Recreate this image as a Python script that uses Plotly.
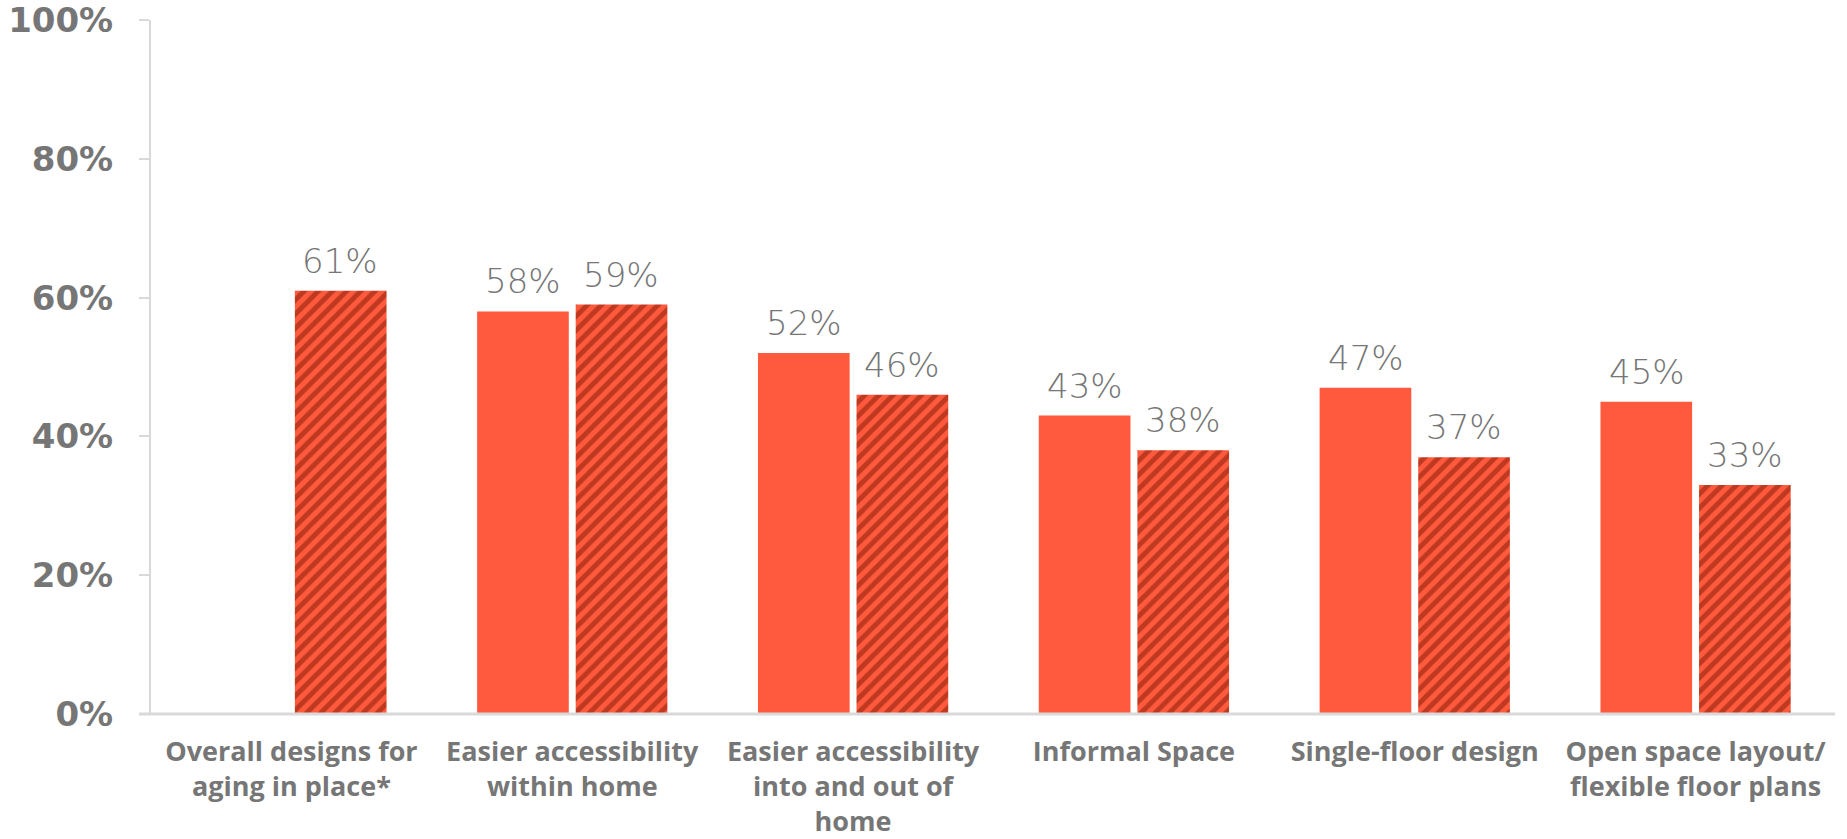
import plotly.graph_objects as go

categories = [
    "Overall designs for<br>aging in place*",
    "Easier accessibility<br>within home",
    "Easier accessibility<br>into and out of<br>home",
    "Informal Space",
    "Single-floor design",
    "Open space layout/<br>flexible floor plans",
]
solid_values = [None, 58, 52, 43, 47, 45]
hatched_values = [61, 59, 46, 38, 37, 33]
y_tick_values = [0, 20, 40, 60, 80, 100]
y_tick_labels = ["0%", "20%", "40%", "60%", "80%", "100%"]

ORANGE = "#FF5A3D"
DARK = "#7E1702"
GREY = "#767676"
AXIS = "#D9D9D9"

x_idx = list(range(len(categories)))

fig = go.Figure()
fig.add_trace(go.Bar(
    x=x_idx, y=solid_values, marker=dict(color=ORANGE, line=dict(width=0)),
    hoverinfo="skip", showlegend=False,
))
fig.add_trace(go.Bar(
    x=x_idx, y=hatched_values,
    marker=dict(color=ORANGE, line=dict(width=0),
                pattern=dict(shape="/", fgcolor=DARK, bgcolor=ORANGE,
                             size=10, solidity=0.5, fillmode="overlay")),
    hoverinfo="skip", showlegend=False,
))

# value labels above each bar
bar_offset = 49
for i in x_idx:
    for vals, shift in ((solid_values, -bar_offset), (hatched_values, bar_offset)):
        v = vals[i]
        if v is None:
            continue
        fig.add_annotation(
            x=i, y=v, xref="x", yref="y", text=f"{v}%", showarrow=False,
            xshift=shift, yshift=8, yanchor="bottom",
            font=dict(family="'DejaVu Sans', sans-serif", size=34,
                      color=GREY, weight=200),
        )

# baseline, running slightly past the value axis on the left
fig.add_shape(type="line", xref="paper", yref="paper", x0=-0.007, x1=0.9994,
              y0=0, y1=0, line=dict(color=AXIS, width=3), layer="above")

fig.update_layout(
    width=1847, height=839,
    margin=dict(l=151, r=11, t=20, b=125),
    paper_bgcolor="white", plot_bgcolor="white",
    barmode="group", bargap=0.298, bargroupgap=0.07,
)
fig.update_xaxes(
    range=[-0.5, 5.5], tickvals=x_idx, ticktext=categories,
    showline=False, showgrid=False, zeroline=False, ticks="",
    tickfont=dict(family="'Open Sans', sans-serif", size=27,
                  color=GREY, weight="bold"),
    ticklabelstandoff=19, automargin=False,
)
fig.update_yaxes(
    range=[0, 100], tickvals=y_tick_values, ticktext=y_tick_labels,
    showline=True, linecolor=AXIS, linewidth=2,
    ticks="outside", ticklen=10, tickcolor=AXIS, tickwidth=2,
    showgrid=False, zeroline=False,
    tickfont=dict(family="'DejaVu Sans', sans-serif", size=34,
                  color=GREY, weight="bold"),
    ticklabelstandoff=19, ticklabeloverflow="allow", automargin=False,
)

fig.write_html("out.html")
